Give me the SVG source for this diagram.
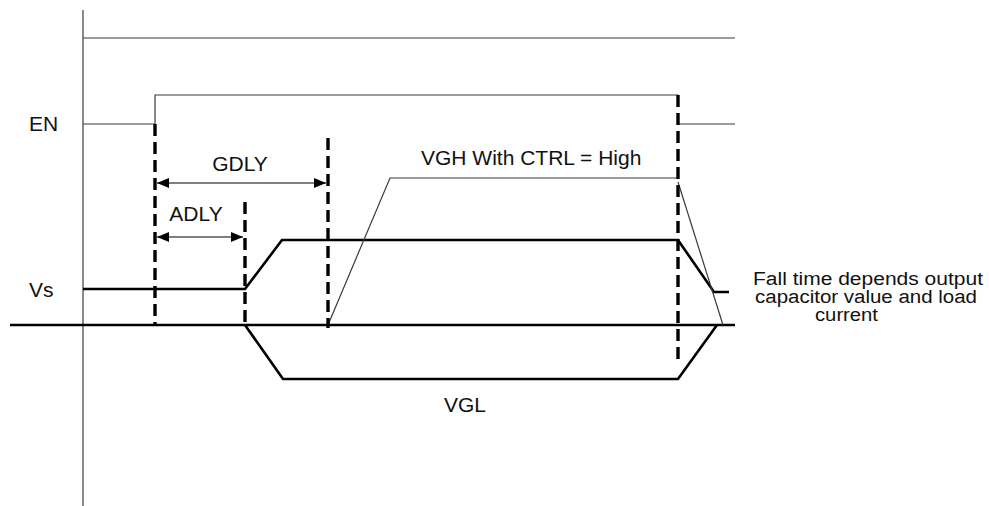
<svg xmlns="http://www.w3.org/2000/svg" width="989" height="506" viewBox="0 0 989 506">
<style>
.thin{fill:none;stroke:#3a3a3a;stroke-width:1.2}
.thick{fill:none;stroke:#000;stroke-width:2.6;stroke-linejoin:miter}
.dash{fill:none;stroke:#000;stroke-width:3.4;stroke-dasharray:12 6}
.arr{fill:none;stroke:#000;stroke-width:1.2}
text{font-family:"Liberation Sans",Arial,sans-serif;font-size:21px;fill:#111}
.note{font-size:18px}
</style>
<defs>
<marker id="ah" viewBox="0 0 12 10" refX="12" refY="5" markerWidth="12" markerHeight="10" markerUnits="userSpaceOnUse" orient="auto-start-reverse">
<path d="M0,0 L12,5 L0,10 Z" fill="#000"/>
</marker>
</defs>
<rect width="989" height="506" fill="#fff"/>
<g id="axes">
<line class="thin" x1="83" y1="10" x2="83" y2="506"/>
<line class="thin" x1="83" y1="38" x2="735" y2="38"/>
</g>
<g id="en-signal">
<polyline class="thin" points="83,124 155,124 155,95 678,95"/>
<line class="thin" x1="679" y1="124" x2="735" y2="124"/>
</g>
<g id="vs-signal">
<polyline class="thick" points="83,289 245,289 282,240 678,240 714,292 729,292"/>
</g>
<g id="baseline">
<line class="thick" x1="10" y1="325" x2="735" y2="325"/>
</g>
<g id="vgl-signal">
<polyline class="thick" points="245,325 283,379 678,379 717,325"/>
</g>
<g id="vgh-signal">
<polyline class="thin" points="328,325 390,178 678,178"/>
<line class="thin" x1="678" y1="182" x2="723" y2="325"/>
</g>
<g id="markers">
<line class="dash" x1="155" y1="124" x2="155" y2="325"/>
<line class="dash" x1="245" y1="202" x2="245" y2="327"/>
<line class="dash" x1="328" y1="138" x2="328" y2="328"/>
<line class="dash" x1="678" y1="95" x2="678" y2="360"/>
</g>
<g id="connectors">
<line class="arr" x1="157" y1="183" x2="326" y2="183" marker-start="url(#ah)" marker-end="url(#ah)"/>
<line class="arr" x1="157" y1="237" x2="243" y2="237" marker-start="url(#ah)" marker-end="url(#ah)"/>
</g>
<g id="labels">
<text x="29" y="131">EN</text>
<text x="29" y="297">Vs</text>
<text x="240" y="171" text-anchor="middle">GDLY</text>
<text x="196" y="221" text-anchor="middle">ADLY</text>
<text x="421" y="165">VGH With CTRL = High</text>
<text x="465" y="412" text-anchor="middle">VGL</text>
<text class="note" x="753" y="285" textLength="230" lengthAdjust="spacingAndGlyphs">Fall time depends output</text>
<text class="note" x="755" y="303" textLength="222" lengthAdjust="spacingAndGlyphs">capacitor value and load</text>
<text class="note" x="815" y="321" textLength="63" lengthAdjust="spacingAndGlyphs">current</text>
</g>
</svg>
